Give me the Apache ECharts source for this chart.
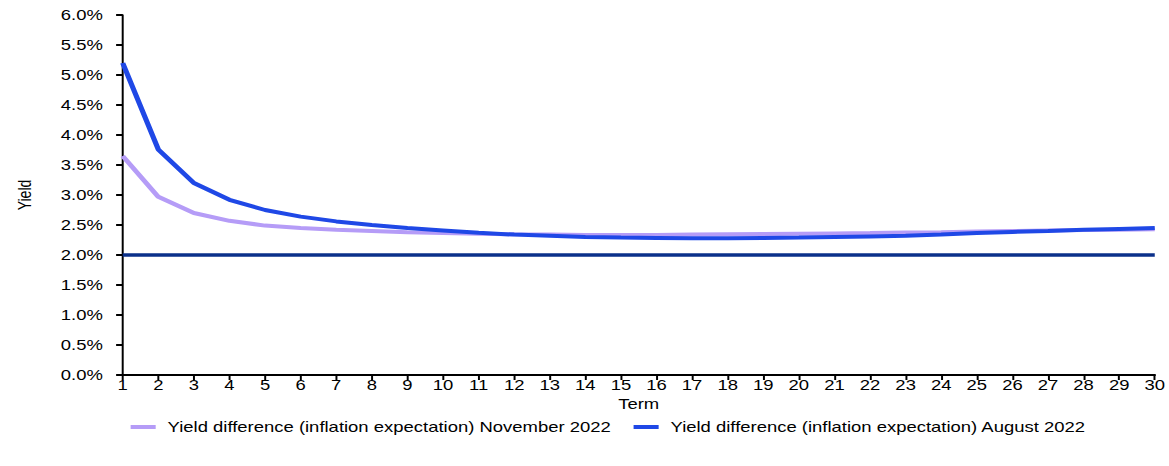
<!DOCTYPE html>
<html>
<head>
<meta charset="utf-8">
<title>Yield difference (inflation expectation)</title>
<script src="https://cdn.jsdelivr.net/npm/echarts@6/dist/echarts.min.js"></script>
<style>
  html, body { margin: 0; padding: 0; background: #ffffff; }
  #frame { width: 1169px; height: 466px; overflow: hidden; }
  /* the chart is laid out narrower and widened to the frame, giving the wide lettering */
  #chart { width: 886px; height: 466px; transform: scaleX(1.3194); transform-origin: 0 0; }
</style>
</head>
<body>
<div id="frame"><div id="chart"></div></div>
<script>
// Term in years
const terms = [1, 2, 3, 4, 5, 6, 7, 8, 9, 10, 11, 12, 13, 14, 15,
               16, 17, 18, 19, 20, 21, 22, 23, 24, 25, 26, 27, 28, 29, 30];

// Yield difference (inflation expectation), percent
const november2022 = [3.65, 2.97, 2.70, 2.57, 2.49, 2.45, 2.42, 2.40, 2.38, 2.365,
                      2.355, 2.345, 2.34, 2.335, 2.335, 2.335, 2.34, 2.345, 2.35, 2.355,
                      2.36, 2.365, 2.375, 2.38, 2.39, 2.40, 2.41, 2.415, 2.42, 2.43];
const august2022   = [5.20, 3.76, 3.20, 2.92, 2.75, 2.64, 2.56, 2.50, 2.45, 2.41,
                      2.37, 2.34, 2.32, 2.30, 2.29, 2.285, 2.28, 2.28, 2.285, 2.29,
                      2.30, 2.31, 2.32, 2.34, 2.365, 2.385, 2.40, 2.42, 2.435, 2.45];

const seriesNames = [
  'Yield difference (inflation expectation) November 2022',
  'Yield difference (inflation expectation) August 2022'
];

// Inflation target reference level, percent
const inflationTarget = 2.0;

// Y axis range and step, percent
const yMin = 0, yMax = 6, yStep = 0.5;

const FONT = 'Liberation Sans, Arial, sans-serif';
const FS = 14;
const chart = echarts.init(document.getElementById('chart'), null, { renderer: 'svg' });

chart.setOption({
  animation: false,
  backgroundColor: '#ffffff',
  textStyle: { fontFamily: FONT, color: '#000000' },
  grid: { left: 93, right: 8, top: 15, bottom: 91, containLabel: false },
  legend: {
    left: 94,
    bottom: 27,
    icon: 'rect',
    itemWidth: 19,
    itemHeight: 4,
    itemGap: 17,
    textStyle: { fontFamily: FONT, fontSize: FS, color: '#000000', padding: [0, 0, 0, 4] },
    data: seriesNames
  },
  xAxis: {
    type: 'category',
    data: terms,
    boundaryGap: false,
    name: 'Term',
    nameLocation: 'middle',
    nameGap: 16,
    nameTextStyle: { fontFamily: FONT, fontSize: FS, color: '#000000' },
    axisLine: { lineStyle: { color: '#000000', width: 2 } },
    axisTick: { show: true, inside: false, length: 5, interval: 0, lineStyle: { color: '#000000', width: 1.5 } },
    axisLabel: { interval: 0, margin: 3, fontFamily: FONT, fontSize: FS, color: '#000000' },
    splitLine: { show: false }
  },
  yAxis: {
    type: 'value',
    min: yMin,
    max: yMax,
    interval: yStep,
    name: 'Yield',
    nameLocation: 'middle',
    nameGap: 68,
    nameRotate: 90,
    nameTextStyle: { fontFamily: FONT, fontSize: FS, color: '#000000' },
    axisLine: { show: true, lineStyle: { color: '#000000', width: 1.5 } },
    axisTick: { show: true, inside: false, length: 5, lineStyle: { color: '#000000', width: 2 } },
    axisLabel: {
      margin: 15,
      fontFamily: FONT,
      fontSize: FS,
      color: '#000000',
      formatter: v => v.toFixed(1) + '%'
    },
    splitLine: { show: false }
  },
  series: [
    {
      name: seriesNames[0],
      type: 'line',
      data: november2022,
      showSymbol: false,
      symbol: 'none',
      lineStyle: { color: '#b59cf7', width: 4 },
      itemStyle: { color: '#b59cf7' },
      z: 2,
      markLine: {
        silent: true,
        symbol: 'none',
        label: { show: false },
        lineStyle: { color: '#0b308a', width: 3.5, type: 'solid' },
        data: [{ yAxis: inflationTarget }]
      }
    },
    {
      name: seriesNames[1],
      type: 'line',
      data: august2022,
      showSymbol: false,
      symbol: 'none',
      lineStyle: { color: '#1f48e6', width: 4 },
      itemStyle: { color: '#1f48e6' },
      z: 3
    }
  ]
});
</script>
</body>
</html>
